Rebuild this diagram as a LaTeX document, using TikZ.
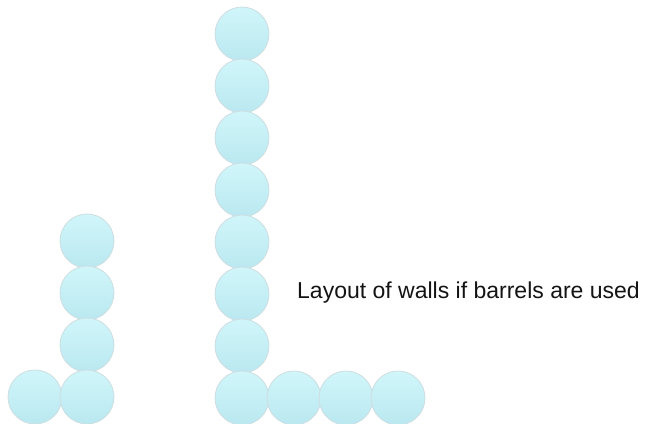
\documentclass[tikz,border=0pt]{standalone}
\usepackage{fontspec}
\setmainfont{Liberation Sans}
\begin{document}
\begin{tikzpicture}[x=1pt,y=-1pt,
  barrel/.style={circle,minimum size=54pt,inner sep=0pt,draw={rgb,255:red,205;green,222;blue,226},line width=0.8pt,
    top color={rgb,255:red,208;green,246;blue,250},bottom color={rgb,255:red,186;green,232;blue,240}},
  lbl/.style={anchor=base west,font=\fontsize{23}{27}\selectfont,text={rgb,255:red,20;green,20;blue,20},inner sep=0pt}]
\useasboundingbox[fill=white] (0,0) rectangle (652,423);
% left group
\node[barrel] (l1) at (87,241) {};
\node[barrel] (l2) at (87,293) {};
\node[barrel] (l3) at (87,345) {};
\node[barrel] (l0) at (35,397) {};
\node[barrel] (l4) at (87,397) {};
% right group column
\foreach \i in {0,...,7}{
  \node[barrel] (r\i) at (242,{34+52*\i}) {};
}
\node[barrel] (b1) at (294,398) {};
\node[barrel] (b2) at (346,398) {};
\node[barrel] (b3) at (398,398) {};
\node[lbl] (t) at (297,298) {Layout of walls if barrels are used};
\end{tikzpicture}
\end{document}
